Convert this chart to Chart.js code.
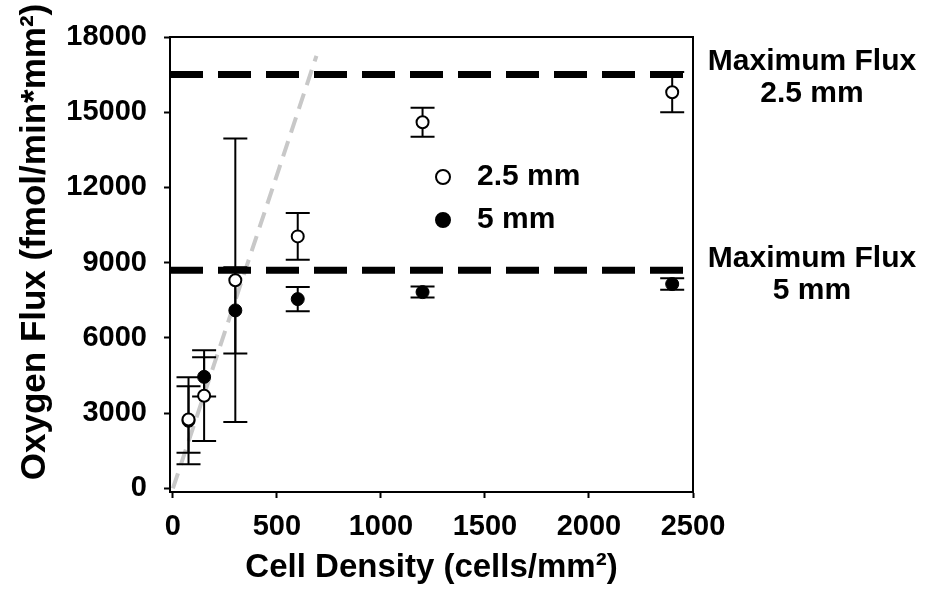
<!DOCTYPE html>
<html>
<head>
<meta charset="utf-8">
<script src="https://cdn.jsdelivr.net/npm/chart.js@4.4.1/dist/chart.umd.min.js"></script>
<style>
  html, body { margin: 0; padding: 0; background: #fff; }
  #wrap { width: 926px; height: 605px; }
</style>
</head>
<body>
<div id="wrap"><canvas id="chart" width="926" height="605"></canvas></div>
<script>
// cell density (cells/mm2) and oxygen flux (fmol/min*mm2), mean and error
const cellDensity = [75, 150, 300, 600, 1200, 2400]
const flux25 = [2750, 3700, 8300, 10050, 14600, 15800]
const err25  = [1330, 1810, 5650, 935, 580, 800]
const flux5  = [2700, 4450, 7100, 7550, 7830, 8150]
const err5   = [1730, 780, 1720, 480, 220, 230]

// theoretical maximum flux for each thickness
const maxFlux = [16500, 8700]
const maxFluxLabels = [['Maximum Flux', '2.5 mm'], ['Maximum Flux', '5 mm']]
const maxFluxEnd = 2460

// grey guide line through the low-density points
const trendX = [0, 690]
const trendY = [0, 17250]

const xTicks = [0, 500, 1000, 1500, 2000, 2500]
const yTicks = [0, 3000, 6000, 9000, 12000, 15000, 18000]
const X_MIN = -14
const Y_MIN = -140

const FONT = "'Liberation Sans', Arial, sans-serif"

const extras = {
  id: 'extras',
  beforeDatasetDraw(chart, args) {
    const ds = chart.data.datasets[args.index]
    if (!ds.errors) return
    const { ctx, scales: { x, y } } = chart
    ctx.save()
    ctx.strokeStyle = '#000'
    ctx.lineWidth = 2
    ds.data.forEach((p, i) => {
      const px = x.getPixelForValue(p.x)
      const top = y.getPixelForValue(p.y + ds.errors[i])
      const bot = y.getPixelForValue(p.y - ds.errors[i])
      ctx.beginPath()
      ctx.moveTo(px, top); ctx.lineTo(px, bot)
      ctx.moveTo(px - 12, top); ctx.lineTo(px + 12, top)
      ctx.moveTo(px - 12, bot); ctx.lineTo(px + 12, bot)
      ctx.stroke()
    })
    ctx.restore()
  },
  afterDraw(chart) {
    const { ctx, chartArea: a, scales: { y } } = chart
    ctx.save()
    // top and right frame
    ctx.strokeStyle = '#000'
    ctx.lineWidth = 2
    ctx.beginPath()
    ctx.moveTo(a.left, a.top); ctx.lineTo(a.right, a.top); ctx.lineTo(a.right, a.bottom)
    ctx.stroke()

    ctx.fillStyle = '#000'
    // y title
    ctx.save()
    ctx.translate(45, 242)
    ctx.rotate(-Math.PI / 2)
    ctx.font = 'bold 35px ' + FONT
    ctx.textAlign = 'center'
    ctx.textBaseline = 'alphabetic'
    ctx.fillText('Oxygen Flux (fmol/min*mm²)', 0, 0)
    ctx.restore()

    // max flux labels
    ctx.font = 'bold 30px ' + FONT
    ctx.textAlign = 'center'
    ctx.textBaseline = 'alphabetic'
    maxFlux.forEach((v, i) => {
      const py = y.getPixelForValue(v)
      const base = i === 0 ? py - 5 : py - 3
      ctx.fillText(maxFluxLabels[i][0], a.right + 119, base)
      ctx.fillText(maxFluxLabels[i][1], a.right + 119, base + 32)
    })

    // legend
    const items = chart.data.datasets.filter(d => d.errors)
    items.forEach((d, i) => {
      const cy = 177 + i * 43
      ctx.beginPath()
      ctx.arc(443, cy, 7, 0, Math.PI * 2)
      ctx.fillStyle = d.backgroundColor
      ctx.fill()
      ctx.lineWidth = 2
      ctx.strokeStyle = d.borderColor
      ctx.stroke()
      ctx.fillStyle = '#000'
      ctx.textAlign = 'left'
      ctx.textBaseline = 'middle'
      ctx.fillText(d.label, 477, cy)
    })
    ctx.restore()
  }
}

const pts = ys => cellDensity.map((x, i) => ({ x, y: ys[i] }))
const tickFont = { family: FONT, size: 29, weight: 'bold' }

new Chart(document.getElementById('chart'), {
  type: 'scatter',
  data: {
    datasets: [
      { label: '2.5 mm', data: pts(flux25), errors: err25, backgroundColor: '#fff', borderColor: '#000',
        pointRadius: 6, pointBorderWidth: 2, order: 0 },
      { label: '5 mm', data: pts(flux5), errors: err5, backgroundColor: '#000', borderColor: '#000',
        pointRadius: 6.5, pointBorderWidth: 1, order: 1 },
      { label: 'max 2.5', data: [{ x: X_MIN, y: maxFlux[0] }, { x: maxFluxEnd, y: maxFlux[0] }], showLine: true,
        borderColor: '#000', borderWidth: 7, borderDash: [33, 15], pointRadius: 0, order: 2 },
      { label: 'max 5', data: [{ x: X_MIN, y: maxFlux[1] }, { x: maxFluxEnd, y: maxFlux[1] }], showLine: true,
        borderColor: '#000', borderWidth: 7, borderDash: [33, 15], pointRadius: 0, order: 3 },
      { label: 'trend', data: trendX.map((x, i) => ({ x, y: trendY[i] })), showLine: true,
        borderColor: '#c8c8c8', borderWidth: 4, borderDash: [16, 9], pointRadius: 0, order: 4 }
    ]
  },
  options: {
    responsive: false,
    animation: false,
    events: [],
    layout: { padding: { top: 37, right: 233, left: 0, bottom: 0 } },
    plugins: { legend: { display: false }, tooltip: { enabled: false } },
    scales: {
      x: {
        type: 'linear', min: X_MIN, max: 2500,
        afterBuildTicks: s => { s.ticks = xTicks.map(v => ({ value: v })) },
        afterFit: s => { s.height = 113 },
        ticks: { color: '#000', font: tickFont, padding: 12, maxRotation: 0, callback: v => String(v) },
        grid: { drawOnChartArea: false, drawTicks: true, tickLength: 6, tickWidth: 2, tickColor: '#000' },
        border: { display: true, color: '#000', width: 2 },
        title: { display: true, text: 'Cell Density (cells/mm²)', color: '#000',
          font: { family: FONT, size: 33, weight: 'bold' }, padding: { top: 0, bottom: 17 } }
      },
      y: {
        type: 'linear', min: Y_MIN, max: 18000,
        afterBuildTicks: s => { s.ticks = yTicks.map(v => ({ value: v })) },
        afterFit: s => { s.width = 170 },
        ticks: { color: '#000', font: tickFont, padding: 17, callback: v => String(v) },
        grid: { drawOnChartArea: false, drawTicks: true, tickLength: 6, tickWidth: 2, tickColor: '#000' },
        border: { display: true, color: '#000', width: 2 }
      }
    }
  },
  plugins: [extras]
})
</script>
</body>
</html>
